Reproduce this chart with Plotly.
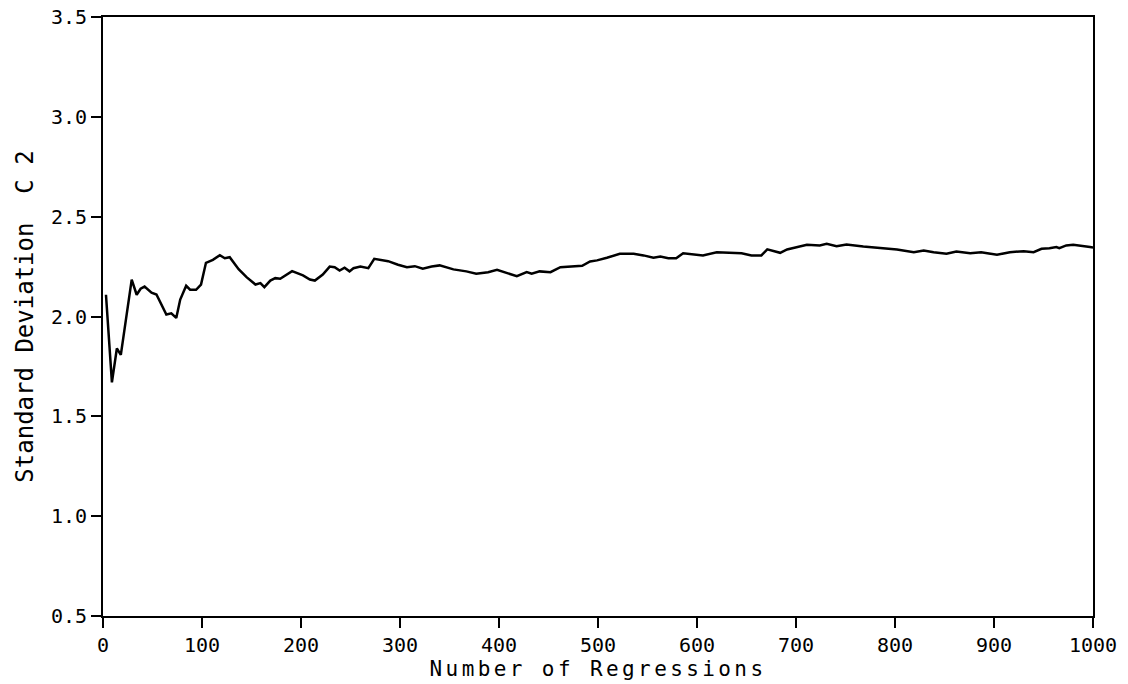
import plotly.graph_objects as go

regressions = [3, 9, 14, 18, 29, 34, 38, 42, 49, 54, 64, 69, 74, 78, 84, 88, 94, 99,
               104, 111, 118, 123, 128, 137, 145, 154, 159, 163, 169, 174, 179, 191,
               202, 209, 214, 222, 229, 234, 239, 244, 249, 253, 260, 268, 274, 280,
               288, 298, 307, 315, 323, 332, 340, 354, 367, 377, 389, 398, 408, 418,
               428, 433, 441, 452, 462, 472, 484, 492, 499, 509, 522, 536, 546, 556,
               563, 571, 579, 586, 593, 606, 620, 633, 645, 655, 665, 671, 684, 691,
               701, 711, 724, 731, 741, 751, 768, 785, 802, 819, 829, 839, 852, 862,
               876, 887, 903, 916, 930, 940, 948, 956, 963, 966, 973, 980, 987, 997, 1000]
std_dev = [2.109, 1.67, 1.84, 1.808, 2.185, 2.109, 2.139, 2.15, 2.119, 2.11, 2.01, 2.016,
           1.993, 2.085, 2.154, 2.134, 2.134, 2.16, 2.269, 2.284, 2.307, 2.292, 2.297,
           2.237, 2.197, 2.16, 2.167, 2.147, 2.18, 2.192, 2.189, 2.227, 2.206, 2.185,
           2.18, 2.21, 2.25, 2.247, 2.23, 2.244, 2.226, 2.242, 2.25, 2.242, 2.289, 2.284,
           2.277, 2.259, 2.247, 2.252, 2.239, 2.25, 2.256, 2.236, 2.226, 2.214, 2.222,
           2.234, 2.217, 2.202, 2.222, 2.214, 2.226, 2.222, 2.247, 2.25, 2.254, 2.276,
           2.281, 2.294, 2.314, 2.314, 2.306, 2.294, 2.30, 2.292, 2.292, 2.317, 2.314,
           2.306, 2.322, 2.319, 2.317, 2.306, 2.306, 2.336, 2.319, 2.336, 2.348, 2.359,
           2.356, 2.364, 2.352, 2.361, 2.351, 2.342, 2.336, 2.322, 2.331, 2.322, 2.314,
           2.326, 2.317, 2.322, 2.309, 2.322, 2.327, 2.322, 2.339, 2.342, 2.348, 2.342,
           2.356, 2.359, 2.356, 2.348, 2.346]

x_ticks = [0, 100, 200, 300, 400, 500, 600, 700, 800, 900, 1000]
y_ticks = [0.5, 1.0, 1.5, 2.0, 2.5, 3.0, 3.5]
y_labels = ["0.5", "1.0", "1.5", "2.0", "2.5", "3.0", "3.5"]

x_title = "Number of Regressions"
y_title = "Standard Deviation\u00a0\u00a0C\u00a02"

FONT = "DejaVu Sans Mono"

fig = go.Figure()
fig.add_trace(go.Scatter(x=regressions, y=std_dev, mode="lines",
                         line=dict(color="black", width=2.5), showlegend=False))

fig.update_layout(
    width=1128, height=684,
    paper_bgcolor="white", plot_bgcolor="white",
    margin=dict(l=103, r=35, t=17, b=68, autoexpand=False),
    font=dict(family=FONT, size=20, color="black"),
)
fig.update_xaxes(
    range=[0, 1000], tickvals=x_ticks, ticks="outside", ticklen=10, tickwidth=2,
    tickcolor="black", showline=True, linewidth=2, linecolor="black", mirror=True,
    showgrid=False, zeroline=False, automargin=False,
    tickfont=dict(family=FONT, size=20),
    title=dict(text="<span style='letter-spacing:3.4px'>" + x_title + "</span>",
               font=dict(family=FONT, size=21), standoff=4),
)
fig.update_yaxes(
    range=[0.5, 3.5], tickvals=y_ticks, ticktext=y_labels, ticks="outside", ticklen=10,
    tickwidth=2, tickcolor="black", showline=True, linewidth=2, linecolor="black",
    mirror=True, showgrid=False, zeroline=False, automargin=False,
    tickfont=dict(family=FONT, size=20),
    title=dict(text=y_title, font=dict(family=FONT, size=24), standoff=10),
)

fig.write_html("out.html")
